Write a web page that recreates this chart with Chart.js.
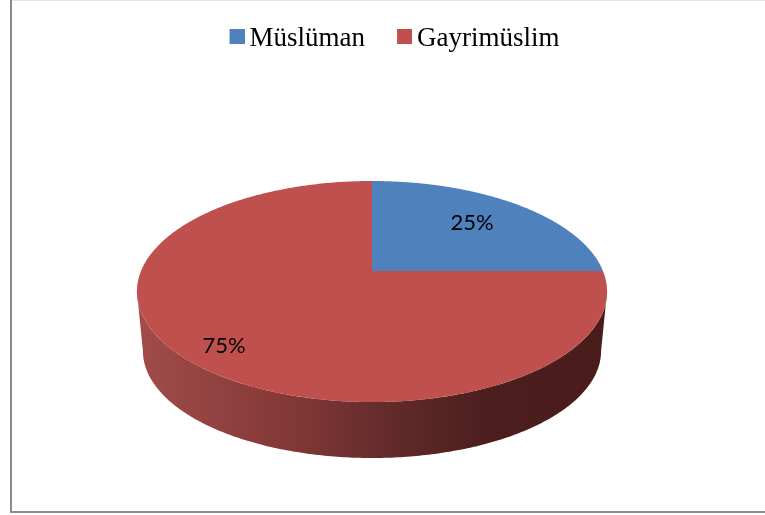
<!DOCTYPE html>
<html lang="tr">
<head>
<meta charset="utf-8">
<style>html,body{margin:0;padding:0;background:#fff}canvas{display:block}</style>
<script src="https://cdn.jsdelivr.net/npm/chart.js@4"></script>
</head>
<body>
<canvas id="c" width="765" height="515"></canvas>
<script>
const categories = ['Müslüman', 'Gayrimüslim'];
const values = [25, 75];
const valueLabels = ['25%', '75%'];
const colors = ['#4f81bd', '#c0504d'];
const labelFractionX = [0.693, 0.787];
const labelFractionY = [0.715, 0.866];

// 3D projection of the pie disc, in units of the library's outer radius
const REF_R = 174;
const PERSP = -41 / 221;
const TILT_X = 231, TILT_Y = 106.7;
const ELL_CY = 20.5;
const WALL_DY = 80, WALL_SX = 229 / 235, WALL_SY = 107 / 110.5;

function rim(arc, a, wall) {
  const s = arc.outerRadius / REF_R;
  const u = Math.cos(a), v = Math.sin(a), d = 1 + PERSP * v;
  let x = TILT_X * u / d, y = TILT_Y * v / d;
  if (wall) { x *= WALL_SX; y = WALL_DY + WALL_SY * (y - ELL_CY); }
  return [arc.x + s * x, arc.y + s * y];
}

function swatch(color) {
  const c = document.createElement('canvas');
  c.width = 17; c.height = 19;
  const g = c.getContext('2d');
  g.fillStyle = color; g.fillRect(2, 0, 15, 15);
  return c;
}

const pie3d = {
  id: 'pie3d',
  afterLayout(chart) {
    const lg = chart.legend;
    lg.left += 25.75; lg.right += 25.75; lg.top -= 35; lg.bottom -= 35;
  },
  beforeDraw(chart) {
    const ctx = chart.ctx;
    ctx.save();
    ctx.fillStyle = '#e4e4e4'; ctx.fillRect(12, 0, 753, 1);
    ctx.fillStyle = '#8c8c8c';
    ctx.fillRect(10, 0, 2, 513);
    ctx.fillRect(10, 511, 755, 2);
    ctx.restore();
  },
  beforeDatasetDraw(chart, args) {
    const ctx = chart.ctx;
    const arcs = chart.getDatasetMeta(args.index).data;
    const vMin = (ELL_CY) / (TILT_Y - PERSP * ELL_CY);
    const front0 = Math.asin(vMin), front1 = Math.PI - front0;
    ctx.save();
    // side wall
    arcs.forEach(arc => {
      const a0 = Math.max(arc.startAngle, front0), a1 = Math.min(arc.endAngle, front1);
      if (a1 <= a0) return;
      const s = arc.outerRadius / REF_R;
      const g = ctx.createLinearGradient(arc.x - 229 * s, 0, arc.x + 229 * s, 0);
      g.addColorStop(0, '#a04b49');
      g.addColorStop(0.30, '#853a38');
      g.addColorStop(0.52, '#652c2b');
      g.addColorStop(0.74, '#4c1f1e');
      g.addColorStop(1, '#4a1d1c');
      ctx.fillStyle = g;
      ctx.beginPath();
      const n = 240;
      for (let i = 0; i <= n; i++) {
        const p = rim(arc, a0 + (a1 - a0) * i / n, false);
        i ? ctx.lineTo(p[0], p[1]) : ctx.moveTo(p[0], p[1]);
      }
      for (let i = n; i >= 0; i--) {
        const p = rim(arc, a0 + (a1 - a0) * i / n, true);
        ctx.lineTo(p[0], p[1]);
      }
      ctx.closePath();
      ctx.fill();
    });
    // top face
    arcs.forEach((arc, k) => {
      ctx.fillStyle = colors[k];
      ctx.beginPath();
      ctx.moveTo(arc.x, arc.y);
      const n = 360;
      for (let i = 0; i <= n; i++) {
        const p = rim(arc, arc.startAngle + (arc.endAngle - arc.startAngle) * i / n, false);
        ctx.lineTo(p[0], p[1]);
      }
      ctx.closePath();
      ctx.fill();
    });
    // value labels
    ctx.fillStyle = '#000';
    ctx.font = '22px "Lato", "Open Sans", sans-serif';
    ctx.textAlign = 'center';
    ctx.textBaseline = 'middle';
    arcs.forEach((arc, k) => {
      const mid = (arc.startAngle + arc.endAngle) / 2;
      const p = rim(arc, mid, false);
      ctx.fillText(valueLabels[k],
        arc.x + (p[0] - arc.x) * labelFractionX[k],
        arc.y + (p[1] - arc.y) * labelFractionY[k]);
    });
    ctx.restore();
    return false;
  }
};

new Chart(document.getElementById('c'), {
  type: 'pie',
  data: {
    labels: categories,
    datasets: [{ data: values, backgroundColor: colors, borderWidth: 0 }]
  },
  plugins: [pie3d],
  options: {
    responsive: false,
    animation: false,
    rotation: 0,
    layout: { padding: { left: 0, right: 21, top: 21.5, bottom: 70 } },
    plugins: {
      tooltip: { enabled: false },
      legend: {
        position: 'top',
        labels: {
          font: { family: '"Liberation Serif"', size: 27 },
          color: '#000',
          usePointStyle: true,
          pointStyleWidth: 0.01,
          boxHeight: 15,
          padding: 38.5,
          generateLabels: chart => categories.map((t, i) => ({
            text: t,
            fontColor: '#000',
            pointStyle: swatch(colors[i]),
            fillStyle: colors[i],
            strokeStyle: colors[i],
            lineWidth: 0,
            hidden: false,
            index: i
          }))
        }
      }
    }
  }
});
</script>
</body>
</html>
